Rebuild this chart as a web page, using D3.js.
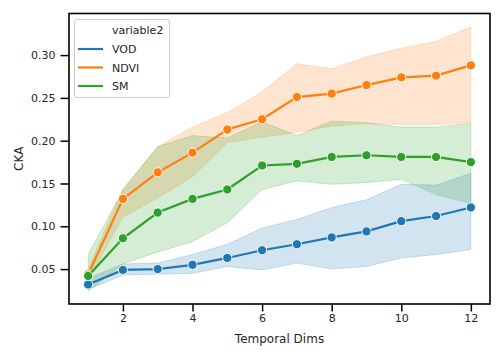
<!DOCTYPE html>
<html><head><meta charset="utf-8">
<script src="https://cdn.jsdelivr.net/npm/d3@7"></script>
<style>body{margin:0;background:#fff}text{font-family:"DejaVu Sans",sans-serif;fill:#262626}</style>
</head><body>
<svg id="c" width="504" height="360"></svg>
<script>
const dims = [1,2,3,4,5,6,7,8,9,10,11,12];
const seriesNames = ["VOD","NDVI","SM"];
const colors = ["#1f77b4","#ff7f0e","#2ca02c"];
const vodMean  = [0.032,0.049,0.050,0.055,0.063,0.072,0.079,0.087,0.094,0.106,0.112,0.122];
const vodLow   = [0.026,0.043,0.044,0.045,0.053,0.049,0.057,0.050,0.053,0.063,0.067,0.073];
const vodHigh  = [0.039,0.056,0.057,0.067,0.079,0.098,0.108,0.122,0.131,0.149,0.148,0.162];
const ndviMean = [0.044,0.132,0.163,0.186,0.213,0.225,0.251,0.255,0.265,0.274,0.276,0.288];
const ndviLow  = [0.037,0.111,0.133,0.158,0.198,0.204,0.210,0.217,0.220,0.219,0.219,0.222];
const ndviHigh = [0.050,0.144,0.193,0.216,0.233,0.257,0.290,0.284,0.298,0.308,0.316,0.333];
const smMean   = [0.042,0.086,0.116,0.132,0.143,0.171,0.173,0.181,0.183,0.181,0.181,0.175];
const smLow    = [0.024,0.056,0.070,0.082,0.104,0.143,0.153,0.149,0.151,0.155,0.137,0.127];
const smHigh   = [0.067,0.142,0.193,0.206,0.203,0.222,0.206,0.223,0.221,0.216,0.216,0.221];
const xTicks = [2,4,6,8,10,12];
const yTicks = [0.05,0.10,0.15,0.20,0.25,0.30];

const series = [
  {name:seriesNames[0], color:colors[0], mean:vodMean, low:vodLow, high:vodHigh},
  {name:seriesNames[1], color:colors[1], mean:ndviMean, low:ndviLow, high:ndviHigh},
  {name:seriesNames[2], color:colors[2], mean:smMean, low:smLow, high:smHigh}
];

const L=69, R=490, T=13.5, B=304;
const svg = d3.select("#c");
const x = d3.scaleLinear().domain([0.45,12.55]).range([L,R]);
const y = d3.scaleLinear().domain([0.0092,0.3486]).range([B,T]);

const g = svg.append("g");
// bands
series.forEach(s=>{
  const area = d3.area().x((d,i)=>x(dims[i])).y0((d,i)=>y(s.low[i])).y1((d,i)=>y(s.high[i]));
  g.append("path").attr("d", area(s.mean)).attr("fill", s.color).attr("fill-opacity",0.2)
   .attr("stroke", s.color).attr("stroke-opacity",0.2).attr("stroke-width",1);
});
// lines + markers
series.forEach(s=>{
  const line = d3.line().x((d,i)=>x(dims[i])).y(d=>y(d));
  g.append("path").attr("d", line(s.mean)).attr("fill","none").attr("stroke", s.color).attr("stroke-width",2.2);
  g.selectAll(null).data(s.mean).enter().append("circle")
   .attr("cx",(d,i)=>x(dims[i])).attr("cy",d=>y(d)).attr("r",4.6)
   .attr("fill", s.color).attr("stroke","#fff").attr("stroke-width",0.9);
});

// axes
const xa = svg.append("g").attr("transform",`translate(0,${B})`)
  .call(d3.axisBottom(x).tickValues(xTicks).tickSize(7.5).tickPadding(2.5).tickFormat(d3.format("d")));
const ya = svg.append("g").attr("transform",`translate(${L},0)`)
  .call(d3.axisLeft(y).tickValues(yTicks).tickSize(8.5).tickPadding(5).tickFormat(d3.format(".2f")));
[xa,ya].forEach(a=>{
  a.select(".domain").remove();
  a.selectAll("line").attr("stroke","#000").attr("stroke-width",1.5);
  a.selectAll("text").attr("font-size","11px").attr("fill","#262626").style("font-family","DejaVu Sans");
});
svg.append("rect").attr("x",L).attr("y",T).attr("width",R-L).attr("height",B-T)
  .attr("fill","none").attr("stroke","#000").attr("stroke-width",1.6);

svg.append("text").attr("x",(L+R)/2).attr("y",343).attr("text-anchor","middle").attr("font-size","12px").text("Temporal Dims");
svg.append("text").attr("transform",`translate(23,${(T+B)/2}) rotate(-90)`).attr("text-anchor","middle").attr("font-size","12px").text("CKA");

// legend
const lg = svg.append("g");
lg.append("rect").attr("x",74.5).attr("y",19.5).attr("width",95).attr("height",78).attr("rx",2.5)
  .attr("fill","#fff").attr("fill-opacity",0.8).attr("stroke","#ccc").attr("stroke-width",1);
lg.append("text").attr("x",112).attr("y",34).attr("font-size","11px").text("variable2");
series.forEach((s,i)=>{
  const yy = 49 + i*18.5;
  lg.append("line").attr("x1",78).attr("x2",103).attr("y1",yy).attr("y2",yy).attr("stroke",s.color).attr("stroke-width",2.2);
  lg.append("text").attr("x",112).attr("y",yy+4).attr("font-size","11px").text(s.name);
});
</script>
</body></html>
